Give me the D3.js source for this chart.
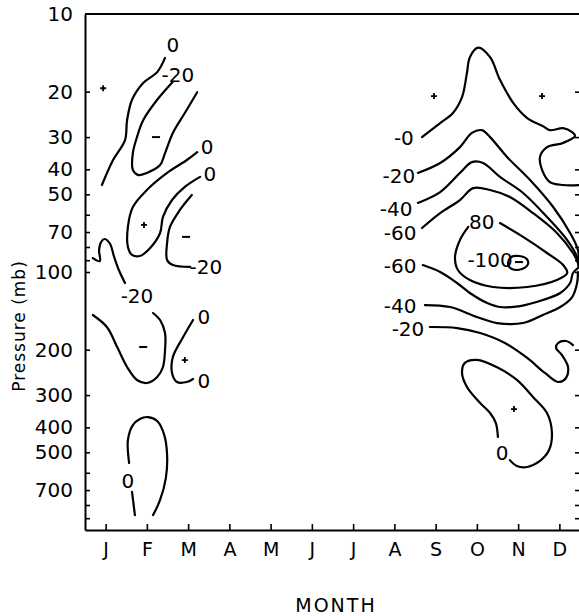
<!DOCTYPE html>
<html>
<head>
<meta charset="utf-8">
<script src="https://cdn.jsdelivr.net/npm/d3@7"></script>
<style>
body { margin: 0; background: #fff; }
svg { display: block; font-family: "DejaVu Sans", sans-serif; }
</style>
</head>
<body>
<svg id="chart" width="579" height="616"></svg>
<script>
// axis values
const months = ["J", "F", "M", "A", "M", "J", "J", "A", "S", "O", "N", "D"];
const pressureLabels = [10, 20, 30, 40, 50, 70, 100, 200, 300, 400, 500, 700];
const pressureTicks = [20, 30, 40, 50, 60, 70, 80, 90, 100, 200, 300, 400, 500, 600, 700, 800, 900];

// contour lines, [month, pressure mb]
// january - march cluster
const janUpperZero = [[0.91,46.0],[1.18,36.8],[1.47,30.8],[1.52,25.8],[1.64,21.5],[1.91,18.5],[2.25,16.8],[2.44,14.8]];
const janUpperMinus20 = [[2.63,18.3],[2.25,21.5],[1.91,25.8],[1.76,30.0],[1.66,34.6],[1.66,40.2],[1.79,42.1],[2.00,41.3],[2.32,38.5],[2.44,34.6],[2.63,28.9],[2.92,24.2],[3.22,20.1]];
const febZeroTongue = [[3.22,34.3],[2.97,36.8],[2.49,41.3],[2.00,48.1],[1.66,56.0],[1.54,66.9],[1.54,80.0],[1.64,85.9],[1.83,86.7],[2.08,80.7],[2.32,70.6],[2.39,61.2],[2.61,52.6],[2.92,46.8],[3.29,42.8]];
const marMinus20 = [[3.09,50.3],[2.80,57.5],[2.56,66.9],[2.49,77.2],[2.49,89.8],[2.63,94.0],[3.05,95.6]];
const janHook = [[0.69,88.3],[0.86,90.7],[0.84,82.2],[0.89,76.5],[0.98,74.5],[1.11,77.9],[1.20,86.7],[1.32,98.2],[1.47,110.3]];
const febLowerMinus20 = [[0.69,146.8],[1.03,163.4],[1.28,195.3],[1.52,233.5],[1.76,262.2],[2.00,269.3],[2.25,255.3],[2.39,233.5],[2.44,200.7],[2.44,172.4],[2.32,153.5],[2.15,144.2]];
const marZero = [[3.12,153.5],[2.88,178.6],[2.63,213.6],[2.61,246.3],[2.73,266.9],[2.97,266.9],[3.12,259.9]];
const febBottomZeroA = [[1.64,712],[1.71,875]];
const febBottomZeroB = [[1.57,550],[1.54,448],[1.66,392],[1.83,371],[2.03,365],[2.25,378],[2.42,428],[2.49,512],[2.46,629],[2.32,765],[2.15,875]];

// september - december cluster
const octZero = [[8.67,30.0],[9.11,26.5],[9.42,24.2],[9.64,21.0],[9.76,16.9],[9.83,14.7],[10.03,13.5],[10.32,14.7],[10.56,18.0],[10.88,22.1],[11.22,25.3],[11.60,27.2],[11.77,28.2],[12.09,27.7],[12.31,28.7],[12.38,29.7],[12.09,31.6],[11.70,32.8],[11.53,35.8],[11.58,40.2],[11.77,44.8],[12.09,46.0],[12.50,46.0]];
const octMinus20 = [[8.57,41.3],[9.11,37.8],[9.59,32.8],[9.88,28.9],[10.12,28.2],[10.32,30.0],[10.73,35.8],[11.29,44.0],[11.85,56.0],[12.26,70.6],[12.45,82.2],[12.47,94.8]];
const octMinus40 = [[8.57,54.0],[9.11,49.0],[9.59,41.3],[9.88,37.5],[10.15,37.8],[10.56,42.8],[11.12,49.4],[11.70,61.2],[12.19,75.2],[12.43,87.5],[12.47,94.8]];
const octMinus60 = [[8.67,67.5],[9.11,59.1],[9.59,52.6],[9.91,47.3],[10.32,48.1],[10.80,51.2],[11.36,59.1],[11.94,70.6],[12.33,84.4],[12.45,92.3],[12.47,95.6]];
const octMinus80 = [[10.56,64.6],[11.12,73.1],[11.70,84.4],[12.09,94.0],[12.19,100.9],[11.94,107.4],[11.22,114.3],[10.39,114.3],[9.83,107.4],[9.54,98.2],[9.47,87.5],[9.59,75.2],[9.79,66.9]];
const novMinus100 = [[10.76,91.5],[10.83,87.5],[11.03,86.7],[11.21,89.0],[11.24,93.1],[11.09,97.4],[10.85,97.4],[10.76,94.0]];
const octLowerMinus60 = [[8.69,94.0],[9.11,100],[9.52,110.3],[9.83,120.6],[10.25,131.9],[10.56,136.7],[11.05,135.5],[11.60,128.4],[12.02,120.6],[12.26,110.3],[12.33,100.9],[12.45,96.5]];
const octLowerMinus40 = [[8.74,134.3],[9.35,136.7],[10.00,149.4],[10.49,157.7],[11.12,157.7],[11.60,146.8],[12.02,136.7],[12.31,125.0],[12.43,110.3],[12.45,100]];
const octLowerMinus20 = [[8.86,163.4],[9.52,164.9],[10.08,172.4],[10.68,188.5],[11.22,215.4],[11.65,246.3],[11.97,266.9],[12.16,257.5],[12.21,233.5],[12.06,209.7],[11.92,197.1],[11.97,188.5],[12.16,185.1],[12.33,191.9]];
const novZero = [[10.51,436],[10.46,385],[10.32,352],[10.08,322],[9.76,279],[9.64,246],[9.71,225],[10.00,219],[10.49,234],[10.97,262],[11.36,305],[11.70,352],[11.82,421],[11.75,490],[11.53,540],[11.22,570],[10.97,565],[10.80,536]];

// contour labels, [text, month, pressure]
const contourLabels = [
  ["0", 2.63, 13.2], ["-20", 2.75, 17.2], ["0", 3.46, 32.8], ["0", 3.53, 41.7],
  ["-20", 3.43, 95.6], ["-20", 1.76, 123.9], ["0", 3.38, 149.4], ["0", 3.38, 264.6],
  ["0", 1.54, 645], ["-0", 8.23, 30.2], ["-20", 8.11, 42.5], ["-40", 8.04, 57.0],
  ["-60", 8.14, 70.6], ["80", 10.12, 64.0], ["-100", 10.32, 89.8], ["-60", 8.14, 94.8],
  ["-40", 8.14, 135.5], ["-20", 8.33, 166.3], ["0", 10.61, 503]
];

// maxima (+) and minima (-) marks
const plusMarks = [[0.94,19.4],[1.93,65.7],[2.92,219.4],[8.96,20.8],[11.58,20.8],[10.90,340]];
const minusMarks = [[2.22,30.0],[2.95,73.1],[1.91,195.3],[11.02,91.5]];

// table of all the lines, closed ones get a closed curve
const contourLines = [
  { pts: janUpperZero }, { pts: janUpperMinus20 }, { pts: febZeroTongue }, { pts: marMinus20 },
  { pts: janHook }, { pts: febLowerMinus20 }, { pts: marZero }, { pts: febBottomZeroA },
  { pts: febBottomZeroB }, { pts: octZero }, { pts: octMinus20 }, { pts: octMinus40 },
  { pts: octMinus60 }, { pts: octMinus80 }, { pts: novMinus100, closed: true },
  { pts: octLowerMinus60 }, { pts: octLowerMinus40 }, { pts: octLowerMinus20 }, { pts: novZero }
];

const svg = d3.select("#chart");
const x = d3.scaleLinear().domain([0.5, 12.5]).range([85, 580]);
const y = d3.scaleLog().domain([10, 1000]).range([14, 530]);

// clip so nothing crosses the frame
svg.append("clipPath").attr("id", "plotclip")
  .append("rect").attr("x", 85).attr("y", 14).attr("width", 495).attr("height", 516);

// function to draw the axes and frame
function drawaxes() {
  // left ticks pointing inward
  svg.append("g")
    .attr("transform", "translate(85,0)")
    .call(d3.axisLeft(y).tickValues(pressureTicks).tickSize(-5).tickSizeOuter(0).tickFormat(""))
    .call(g => g.select(".domain").attr("stroke-width", 2))
    .call(g => g.selectAll(".tick line").attr("stroke-width", 1.6));
  // left labels
  svg.append("g")
    .attr("transform", "translate(85,0)")
    .call(d3.axisLeft(y).tickValues(pressureLabels).tickSize(0).tickPadding(12).tickFormat(d3.format("d")))
    .call(g => g.select(".domain").remove())
    .call(g => g.selectAll("text").attr("font-size", 20).attr("font-family", "DejaVu Sans").attr("fill", "#000"));
  // right ticks, axis line itself sits just outside the picture
  svg.append("g")
    .attr("transform", "translate(580,0)")
    .call(d3.axisRight(y).tickValues(pressureTicks).tickSize(-5).tickSizeOuter(0).tickFormat(""))
    .call(g => g.select(".domain").attr("stroke-width", 2))
    .call(g => g.selectAll(".tick line").attr("stroke-width", 1.6));
  // bottom axis with month letters
  svg.append("g")
    .attr("transform", "translate(0,530)")
    .call(d3.axisBottom(x).tickValues(d3.range(1, 13)).tickSize(-6).tickSizeOuter(0).tickPadding(13)
      .tickFormat((d, i) => months[i]))
    .call(g => g.select(".domain").attr("stroke-width", 2))
    .call(g => g.selectAll(".tick line").attr("stroke-width", 1.6))
    .call(g => g.selectAll("text").attr("font-size", 19).attr("font-family", "DejaVu Sans").attr("fill", "#000"));
  // top frame line
  svg.append("line")
    .attr("x1", 85).attr("x2", 580).attr("y1", 14).attr("y2", 14)
    .attr("stroke", "black").attr("stroke-width", 2);

  // axis titles
  svg.append("text")
    .attr("transform", "translate(25,326) rotate(-90)")
    .attr("text-anchor", "middle")
    .attr("font-size", 17)
    .attr("letter-spacing", 1)
    .attr("fill", "#000")
    .text("Pressure (mb)");
  svg.append("text")
    .attr("x", 336).attr("y", 612)
    .attr("text-anchor", "middle")
    .attr("font-size", 19)
    .attr("letter-spacing", 2)
    .attr("fill", "#000")
    .text("MONTH");
}

// function to draw the contour lines
function drawcontours() {
  const g = svg.append("g").attr("clip-path", "url(#plotclip)");
  const openline = d3.line().x(d => x(d[0])).y(d => y(d[1])).curve(d3.curveCatmullRom.alpha(0.5));
  const closedline = d3.line().x(d => x(d[0])).y(d => y(d[1])).curve(d3.curveCatmullRomClosed.alpha(0.5));
  g.selectAll("path.contour")
    .data(contourLines)
    .join("path")
    .attr("class", "contour")
    .attr("d", d => (d.closed ? closedline : openline)(d.pts))
    .attr("fill", "none")
    .attr("stroke", "black")
    .attr("stroke-width", 2.2)
    .attr("stroke-linejoin", "round")
    .attr("stroke-linecap", "round");

  // plus marks
  g.selectAll("path.plus")
    .data(plusMarks)
    .join("path")
    .attr("class", "plus")
    .attr("d", d => `M${x(d[0]) - 3},${y(d[1])}h6M${x(d[0])},${y(d[1]) - 3}v6`)
    .attr("stroke", "black")
    .attr("stroke-width", 1.8);
  // minus marks
  g.selectAll("path.minus")
    .data(minusMarks)
    .join("path")
    .attr("class", "minus")
    .attr("d", d => `M${x(d[0]) - 4},${y(d[1])}h8`)
    .attr("stroke", "black")
    .attr("stroke-width", 2);
}

// function to write the contour values
function drawlabels() {
  svg.selectAll("text.clabel")
    .data(contourLabels)
    .join("text")
    .attr("class", "clabel")
    .attr("x", d => x(d[1]))
    .attr("y", d => y(d[2]))
    .attr("text-anchor", "middle")
    .attr("dominant-baseline", "central")
    .attr("font-size", 20)
    .attr("fill", "#000")
    .text(d => d[0]);
}

drawaxes();
drawcontours();
drawlabels();
</script>
</body>
</html>
